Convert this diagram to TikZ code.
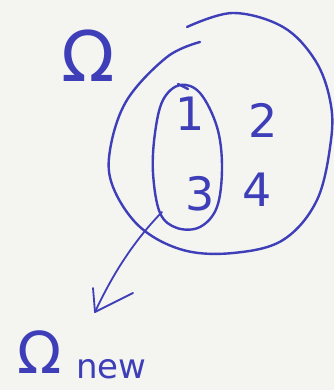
\documentclass[tikz,border=0pt]{standalone}
\usepackage{fontspec}
\setmainfont{DejaVu Sans}
\definecolor{ink}{RGB}{62,62,185}
\definecolor{paper}{RGB}{244,244,241}
\begin{document}
\begin{tikzpicture}[x=1pt,y=-1pt,
  pen/.style={draw=ink,line width=2.4pt,line cap=round,line join=round},
  lbl/.style={text=ink,inner sep=0pt,anchor=center}]
\fill[paper] (0,0) rectangle (334,390);
\useasboundingbox (0,0) rectangle (334,390);
% big set
\draw[pen] plot[smooth,tension=0.6] coordinates {(200,42) (167,57) (127,100) (110,150) (113,187) (140,227) (183,250) (233,253) (283,240) (317,200) (331,140) (330,100) (315,60) (283,27) (233,13) (187,27)};
% inner set
\draw[pen] plot[smooth cycle,tension=0.6] coordinates {(180,85) (200,93) (217,127) (222,167) (217,207) (200,227) (177,228) (160,213) (153,173) (155,133) (163,100)};
\draw[pen] (178,84) -- (188,89);
% labels
\node[lbl,font=\fontsize{46}{46}\selectfont] (n1) at (190,114) {1};
\node[lbl,font=\fontsize{46}{46}\selectfont] (n2) at (263,120) {2};
\node[lbl,font=\fontsize{46}{46}\selectfont] (n3) at (200,194) {3};
\node[lbl,font=\fontsize{46}{46}\selectfont] (n4) at (257,190) {4};
\node[lbl,font=\fontsize{70}{70}\selectfont] (om) at (88,56) {Ω};
\node[lbl,font=\fontsize{58}{58}\selectfont] (omn) at (40,352) {Ω};
\node[lbl,font=\fontsize{34}{34}\selectfont,anchor=base west] (new) at (76,378) {new};
% arrow
\coordinate (from) at (162,212);
\coordinate (tip) at (95,312);
\coordinate (armL) at (93,288);
\coordinate (armR) at (133,293);
\draw[pen,line width=1.8pt] (from) .. controls (130,245) and (110,280) .. (tip);
\draw[pen,line width=1.8pt] (armL) -- (tip) -- (armR);
\end{tikzpicture}
\end{document}
